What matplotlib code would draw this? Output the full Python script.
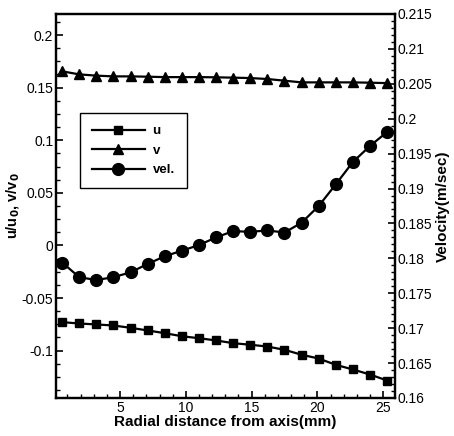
import matplotlib
matplotlib.use("Agg")
import matplotlib.pyplot as plt
from matplotlib.ticker import MultipleLocator

plt.rcParams['font.family'] = ['Liberation Sans', 'DejaVu Sans']

# radial positions (mm)
r = [0.6, 1.9, 3.2, 4.5, 5.8, 7.1, 8.4, 9.7, 11.0, 12.3,
     13.6, 14.9, 16.2, 17.5, 18.8, 20.1, 21.4, 22.7, 24.0, 25.3]
# u/u0 (left axis)
u = [-0.0729, -0.0742, -0.0751, -0.0761, -0.0783, -0.0808, -0.0834, -0.0863, -0.0882, -0.0903,
     -0.0929, -0.0944, -0.0961, -0.0992, -0.1039, -0.1075, -0.1135, -0.1179, -0.1227, -0.1284]
# v/v0 (left axis)
v = [0.1655, 0.1626, 0.1614, 0.1607, 0.1607, 0.1604, 0.1600, 0.1600, 0.1600, 0.1598,
     0.1595, 0.1591, 0.1582, 0.1566, 0.1550, 0.1550, 0.1550, 0.1550, 0.1547, 0.1543]
# velocity magnitude m/sec (right axis)
vel = [0.1794, 0.1773, 0.1769, 0.1773, 0.1780, 0.1792, 0.1803, 0.1811, 0.1819, 0.1830,
       0.1839, 0.1838, 0.1840, 0.1837, 0.1851, 0.1875, 0.1906, 0.1938, 0.1961, 0.1981]

fig = plt.figure(figsize=(4.54, 4.36), dpi=100)
ax = fig.add_axes([0.1233, 0.0872, 0.7467, 0.8807])
ax2 = ax.twinx()

lu, = ax.plot(r, u, color='black', lw=1.6, marker='s', ms=5.5, label='u')
lv, = ax.plot(r, v, color='black', lw=1.6, marker='^', ms=6.5, label='v')
lvel, = ax2.plot(r, vel, color='black', lw=1.6, marker='o', ms=8.5, label='vel.')

ax.set_xlim(0.13, 25.9)
ax.set_ylim(-0.145, 0.22)
ax2.set_ylim(0.16, 0.215)

ax.xaxis.set_major_locator(MultipleLocator(5))
ax.xaxis.set_minor_locator(MultipleLocator(1))
ax.yaxis.set_major_locator(MultipleLocator(0.05))
ax.yaxis.set_minor_locator(MultipleLocator(0.0125))
ax2.yaxis.set_major_locator(MultipleLocator(0.005))
ax2.yaxis.set_minor_locator(MultipleLocator(0.001))

def fmt(x, pos):
    s = ('%.3f' % x).rstrip('0').rstrip('.')
    if s in ('-0', ''):
        s = '0'
    return s

ax.yaxis.set_major_formatter(plt.FuncFormatter(fmt))
ax2.yaxis.set_major_formatter(plt.FuncFormatter(fmt))

for a in (ax, ax2):
    a.tick_params(which='major', direction='in', length=5, width=1.2, labelsize=10)
    a.tick_params(which='minor', direction='in', length=3, width=1)
    for s in a.spines.values():
        s.set_linewidth(1.6)
ax.tick_params(axis='x', top=False, pad=2)
ax.tick_params(axis='y', right=False, pad=2)
ax2.tick_params(axis='y', left=False, pad=2)

ax.set_xlabel('Radial distance from axis(mm)', fontsize=11, fontweight='bold', labelpad=0)
ax.set_ylabel('u/u$_\\mathbf{0}$, v/v$_\\mathbf{0}$', fontsize=10.5, fontweight='bold', labelpad=0)
ax2.set_ylabel('Velocity(m/sec)', fontsize=11, fontweight='bold', labelpad=2)

leg = ax2.legend(handles=[lu, lv, lvel], loc='upper left', bbox_to_anchor=(0.071, 0.742),
                 borderaxespad=0, handlelength=4, numpoints=1, fancybox=False,
                 framealpha=1, edgecolor='black', prop={'weight': 'bold', 'size': 9.5},
                 borderpad=0.9, labelspacing=0.55, handletextpad=0.6)
leg.get_frame().set_linewidth(1.0)

fig.savefig('out.png', dpi=100, facecolor='white')
